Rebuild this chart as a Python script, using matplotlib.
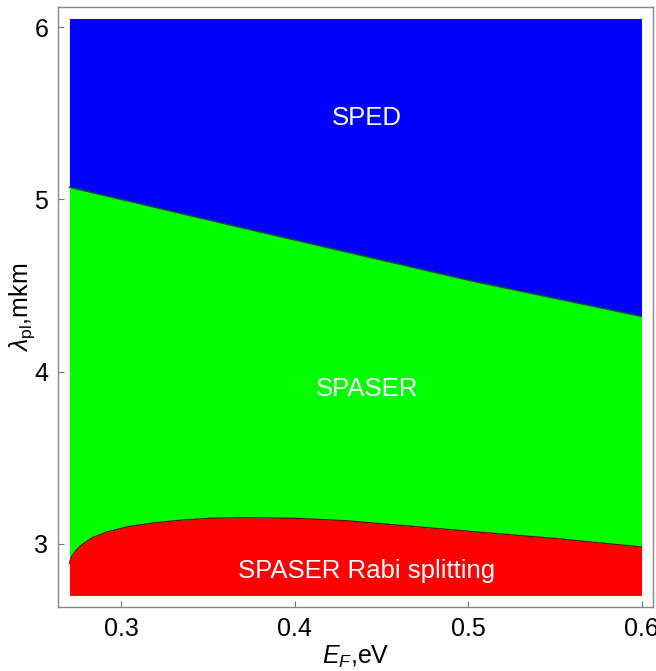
import numpy as np
import matplotlib
matplotlib.use("Agg")
import matplotlib.pyplot as plt

# --- data ---
x_min, x_max = 0.27, 0.60
y_min, y_max = 2.70, 6.05

# upper boundary (SPED / SPASER)
sped_x = [0.27, 0.35, 0.436, 0.50, 0.60]
sped_y = [5.07, 4.88, 4.68, 4.53, 4.32]

# lower boundary (SPASER / Rabi splitting)
rabi_x = [0.27, 0.2713, 0.2742, 0.2771, 0.2828, 0.2905, 0.3041, 0.3176,
          0.333, 0.3511, 0.3704, 0.3994, 0.4283, 0.490, 0.548, 0.60]
rabi_y = [2.888, 2.927, 2.965, 2.994, 3.033, 3.065, 3.100, 3.120,
          3.136, 3.148, 3.152, 3.148, 3.135, 3.081, 3.033, 2.981]

region_labels = ["SPED", "SPASER", "SPASER Rabi splitting"]
label_pos = [(0.4415, 5.47), (0.4415, 3.90), (0.4415, 2.84)]

x_ticks = [0.3, 0.4, 0.5, 0.6]
y_ticks = [3, 4, 5, 6]

plt.rcParams['font.family'] = ['Liberation Sans', 'DejaVu Sans']
plt.rcParams['mathtext.fontset'] = 'custom'
plt.rcParams['mathtext.rm'] = 'Liberation Sans'
plt.rcParams['mathtext.it'] = 'Liberation Sans:italic'

fig = plt.figure(figsize=(6.56, 6.71), dpi=100)
ax = fig.add_axes([0.0884, 0.0954, 0.9070, 0.8942])

xx = np.linspace(x_min, x_max, 600)
top = np.interp(xx, sped_x, sped_y)
bot = np.interp(xx, rabi_x, rabi_y)

ax.fill_between(xx, top, y_max, color="#0000ff", lw=0)
ax.fill_between(xx, bot, top, color="#00ff00", lw=0)
ax.fill_between(xx, y_min, bot, color="#ff0000", lw=0)
ax.plot(xx, top, color="#0a5a20", lw=1.0)
ax.plot(xx, bot, color="#7a0a0a", lw=1.0)

for txt, (px, py) in zip(region_labels, label_pos):
    ax.text(px, py, txt, color="white", fontsize=18.5, ha="center", va="center")

pad_x = 0.02 * (x_max - x_min)
pad_y = 0.02 * (y_max - y_min)
ax.set_xlim(x_min - pad_x, x_max + pad_x)
ax.set_ylim(y_min - pad_y, y_max + pad_y)

ax.set_xticks(x_ticks)
ax.set_xticklabels([f"{t:.1f}" for t in x_ticks])
ax.set_yticks(y_ticks)
ax.tick_params(direction="in", length=4, width=0.8, color="#777777",
               labelsize=18, pad=7, top=False, right=False)
for sp in ax.spines.values():
    sp.set_color("#888888")
    sp.set_linewidth(1.0)

ax.set_xlabel(r"$E_F$,eV", fontsize=18, labelpad=2)
ax.set_ylabel(r"$\lambda_{\rm pl}$,mkm", fontsize=18, labelpad=-2)

plt.savefig("out.png", dpi=100)
